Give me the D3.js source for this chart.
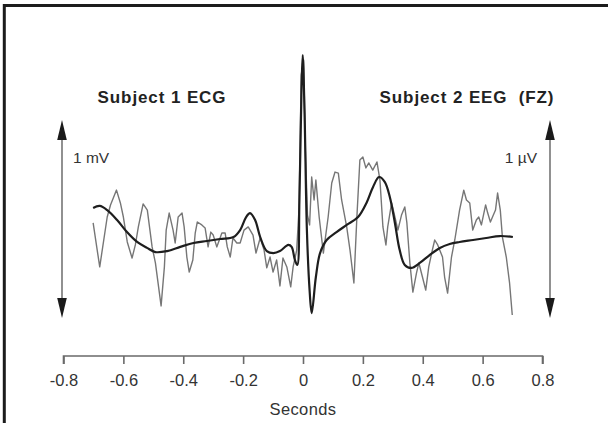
<!DOCTYPE html>
<html>
<head>
<meta charset="utf-8">
<script src="https://cdn.jsdelivr.net/npm/d3@7"></script>
<style>
  html, body { margin: 0; padding: 0; background: #fff; }
  svg { display: block; }
  text { font-family: "Liberation Sans", Arial, sans-serif; }
</style>
</head>
<body>
<svg id="chart" width="608" height="423"></svg>
<script>
// Raw EEG trace (Subject 2, FZ): time in seconds, amplitude in scale-bar units
const eegTime = [-0.701,-0.679,-0.654,-0.643,-0.623,-0.610,-0.600,-0.587,-0.571,-0.560,-0.550,-0.534,-0.520,-0.504,-0.493,-0.474,-0.463,-0.457,-0.447,-0.434,-0.427,-0.417,-0.404,-0.397,-0.388,-0.380,-0.368,-0.360,-0.353,-0.338,-0.327,-0.317,-0.308,-0.300,-0.288,-0.271,-0.260,-0.253,-0.243,-0.234,-0.221,-0.210,-0.197,-0.183,-0.167,-0.157,-0.143,-0.130,-0.121,-0.110,-0.100,-0.088,-0.077,-0.067,-0.054,-0.041,-0.033,-0.021,-0.013,-0.006,0.002,0.008,0.015,0.022,0.029,0.037,0.043,0.054,0.068,0.084,0.096,0.107,0.118,0.129,0.146,0.157,0.170,0.180,0.190,0.200,0.210,0.220,0.233,0.247,0.257,0.267,0.277,0.283,0.296,0.307,0.317,0.329,0.340,0.347,0.357,0.367,0.379,0.387,0.399,0.410,0.420,0.432,0.440,0.450,0.466,0.473,0.483,0.496,0.507,0.523,0.537,0.546,0.557,0.567,0.579,0.587,0.596,0.610,0.617,0.626,0.633,0.643,0.650,0.659,0.666,0.679,0.690,0.699];
const eegValue = [0.480,0.258,0.510,0.571,0.646,0.581,0.510,0.384,0.303,0.369,0.460,0.576,0.545,0.359,0.278,0.061,0.258,0.444,0.530,0.444,0.379,0.510,0.530,0.460,0.308,0.232,0.293,0.429,0.485,0.470,0.455,0.359,0.434,0.419,0.359,0.429,0.429,0.359,0.308,0.404,0.379,0.379,0.444,0.460,0.419,0.328,0.404,0.343,0.253,0.308,0.232,0.293,0.162,0.303,0.258,0.157,0.258,0.343,0.561,1.227,1.303,0.848,0.520,0.470,0.712,0.596,0.697,0.510,0.328,0.510,0.682,0.737,0.732,0.596,0.460,0.343,0.177,0.510,0.798,0.813,0.758,0.783,0.747,0.788,0.697,0.460,0.369,0.460,0.581,0.510,0.444,0.520,0.561,0.480,0.278,0.131,0.227,0.278,0.207,0.141,0.258,0.343,0.394,0.369,0.308,0.207,0.126,0.308,0.394,0.545,0.646,0.596,0.581,0.444,0.495,0.510,0.470,0.571,0.530,0.485,0.510,0.545,0.631,0.545,0.409,0.308,0.177,0.015];

// Averaged ECG trace (Subject 1)
const ecgTime = [-0.701,-0.679,-0.654,-0.621,-0.588,-0.554,-0.521,-0.493,-0.454,-0.410,-0.366,-0.321,-0.277,-0.232,-0.210,-0.190,-0.177,-0.160,-0.143,-0.121,-0.099,-0.077,-0.049,-0.038,-0.027,-0.019,-0.012,-0.005,-0.001,0.005,0.013,0.022,0.029,0.043,0.057,0.079,0.112,0.146,0.184,0.212,0.234,0.254,0.273,0.290,0.307,0.323,0.340,0.362,0.390,0.423,0.457,0.490,0.523,0.568,0.612,0.657,0.701];
const ecgValue = [0.556,0.566,0.545,0.495,0.434,0.384,0.354,0.333,0.338,0.359,0.379,0.389,0.399,0.409,0.444,0.510,0.530,0.495,0.409,0.338,0.328,0.338,0.369,0.359,0.293,0.268,0.596,1.152,1.328,1.051,0.444,0.141,0.025,0.207,0.328,0.394,0.434,0.470,0.510,0.581,0.662,0.712,0.687,0.611,0.480,0.343,0.268,0.253,0.278,0.318,0.354,0.374,0.384,0.394,0.404,0.414,0.409];

const xTicks = [-0.8,-0.6,-0.4,-0.2,0,0.2,0.4,0.6,0.8];
const titleLeft = "Subject 1 ECG";
const titleRight = "Subject 2 EEG  (FZ)";
const barLeftLabel = "1 mV";
const barRightLabel = "1 \u00b5V";
const xLabel = "Seconds";

const svg = d3.select("#chart");

// outer frame (open on the right and bottom)
svg.append("rect")
  .attr("x", 4.3).attr("y", 5.5)
  .attr("width", 700).attr("height", 600)
  .attr("fill", "none").attr("stroke", "#1c1c1c").attr("stroke-width", 3);

const x = d3.scaleLinear().domain([-0.8, 0.8]).range([63.5, 542.5]);
const y = d3.scaleLinear().domain([0, 1]).range([318, 120]);

// time axis
const axisY = 356;
const axis = svg.append("g")
  .attr("transform", `translate(0,${axisY})`)
  .call(d3.axisBottom(x).tickValues(xTicks).tickSize(8).tickPadding(10)
    .tickFormat(d => d === 0 ? "0" : d3.format(".1f")(d).replace("\u2212", "-")));
axis.select(".domain").attr("stroke", "#6a6a6a").attr("stroke-width", 1.6)
  .attr("d", `M${x(-0.8)},8V0H${x(0.8)}V8`);
axis.selectAll(".tick line").attr("stroke", "#6a6a6a").attr("stroke-width", 1.6);
axis.selectAll(".tick text").attr("fill", "#333").attr("font-size", 16.5);

svg.append("text")
  .attr("x", x(0)).attr("y", 415)
  .attr("text-anchor", "middle").attr("font-size", 16.5).attr("fill", "#333")
  .attr("letter-spacing", 0.4)
  .text(xLabel);

// scale bars with arrowheads
function scaleBar(px, label, labelX, anchor) {
  const g = svg.append("g");
  const top = y(1), bot = y(0);
  g.append("line").attr("x1", px).attr("x2", px)
    .attr("y1", top + 15).attr("y2", bot - 15)
    .attr("stroke", "#555").attr("stroke-width", 1.3);
  g.append("path")
    .attr("d", `M${px},${top}L${px - 4.8},${top + 20}L${px + 4.8},${top + 20}Z`)
    .attr("fill", "#1a1a1a");
  g.append("path")
    .attr("d", `M${px},${bot}L${px - 4.8},${bot - 20}L${px + 4.8},${bot - 20}Z`)
    .attr("fill", "#1a1a1a");
  g.append("text").attr("x", labelX).attr("y", 163)
    .attr("text-anchor", anchor).attr("font-size", 15.5).attr("fill", "#333")
    .text(label);
}
scaleBar(62, barLeftLabel, 73, "start");
scaleBar(550, barRightLabel, 537, "end");

// subject titles
svg.append("text").attr("x", 162).attr("y", 103)
  .attr("text-anchor", "middle").attr("font-size", 17).attr("font-weight", "bold")
  .attr("fill", "#222").attr("letter-spacing", 0.9).text(titleLeft);
svg.append("text").attr("x", 467).attr("y", 103)
  .attr("text-anchor", "middle").attr("font-size", 17).attr("font-weight", "bold")
  .attr("fill", "#222").attr("letter-spacing", 0.9)
  .style("white-space", "pre").text(titleRight);

// EEG trace (thin, grey)
const eeg = eegTime.map((t, i) => [t, eegValue[i]]);
svg.append("path")
  .datum(eeg)
  .attr("fill", "none").attr("stroke", "#767676").attr("stroke-width", 1.4)
  .attr("stroke-linejoin", "round")
  .attr("d", d3.line().x(d => x(d[0])).y(d => y(d[1])));

// ECG trace (thick, dark)
const ecg = ecgTime.map((t, i) => [t, ecgValue[i]]);
svg.append("path")
  .datum(ecg)
  .attr("fill", "none").attr("stroke", "#1e1e1e").attr("stroke-width", 2.2)
  .attr("stroke-linejoin", "round")
  .attr("d", d3.line().curve(d3.curveCatmullRom.alpha(0.5)).x(d => x(d[0])).y(d => y(d[1])));
</script>
</body>
</html>
